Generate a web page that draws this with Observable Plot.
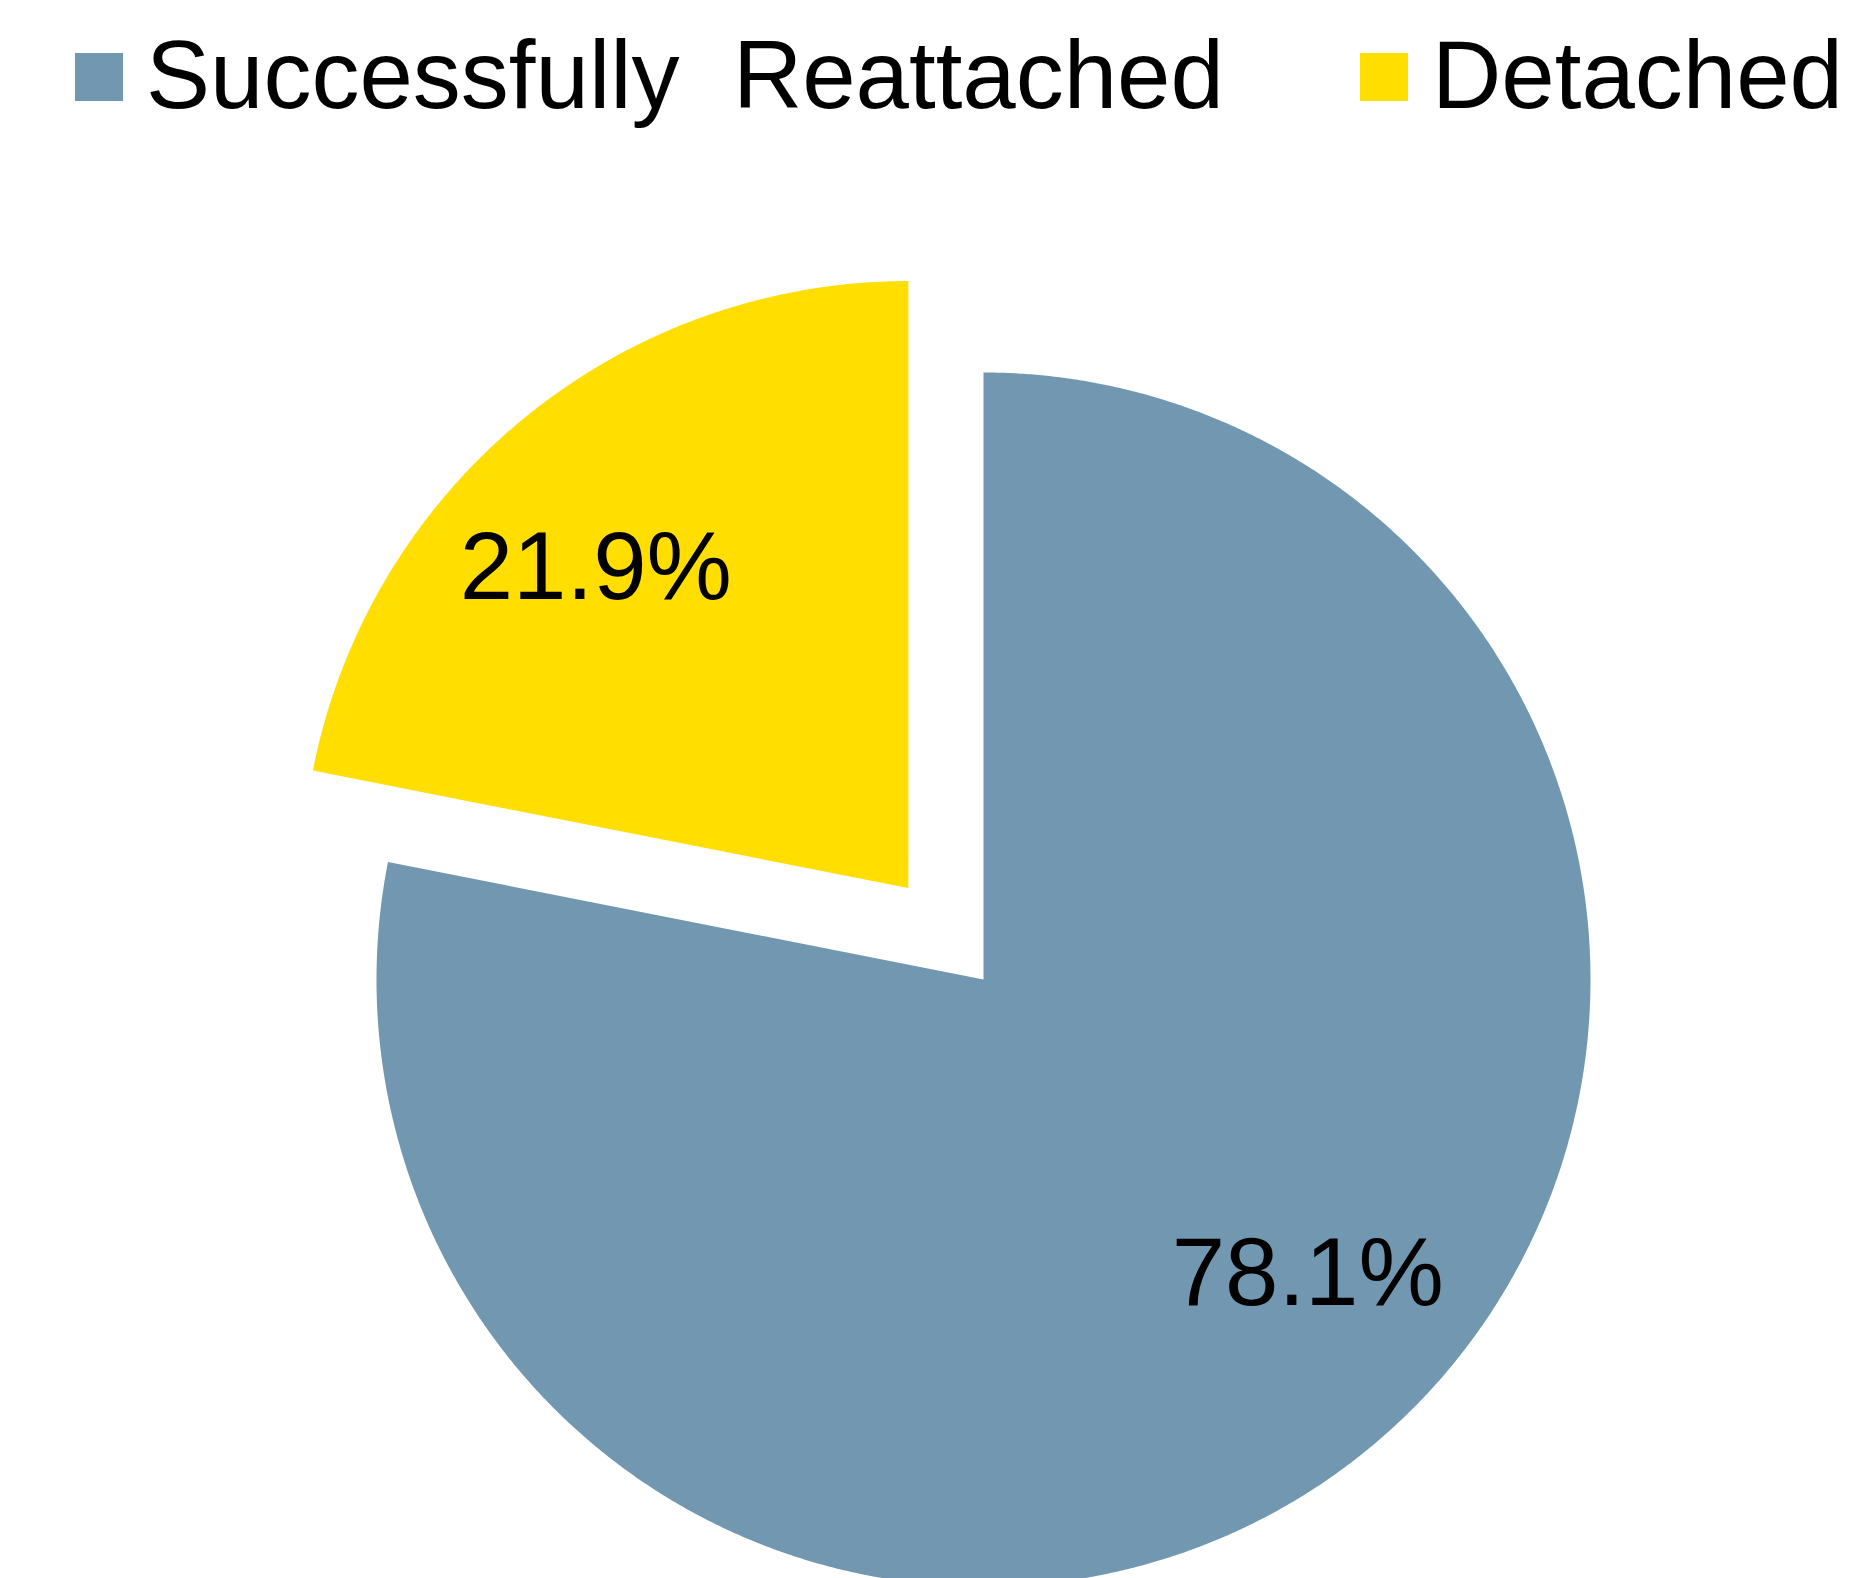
<!DOCTYPE html>
<html>
<head>
<meta charset="utf-8">
<script src="https://cdn.jsdelivr.net/npm/d3@7"></script>
<script src="https://cdn.jsdelivr.net/npm/@observablehq/plot@0.6"></script>
<style>
  html, body { margin: 0; padding: 0; background: #fff; overflow: hidden; }
  #legend { position: relative; width: 1851px; height: 140px; font-family: "Liberation Sans", Arial, sans-serif; }
  .sw { position: absolute; top: 53px; width: 48px; height: 48px; }
  .lt { position: absolute; top: 27px; font-size: 96px; line-height: 96px; white-space: pre; color: #000; }
  #chart svg { display: block; }
</style>
</head>
<body>
<div id="legend"></div>
<div id="chart"></div>
<script>
// ---- data ----
const categories = ["Successfully  Reattached", "Detached"];
const values = [78.1, 21.9];
const colors = ["#7297B0", "#FFDE00"];

// ---- layout (pixels) ----
const W = 1851, H = 1438;
const CX = 983, CY = 839, R = 607;
const explode = [0, 0.195];            // fraction of radius
const labelRadius = [0.722, 0.737];    // fraction of radius
const labelShiftDeg = [8.3, 4.9];      // counter-clockwise shift from bisector

// legend
const legend = document.getElementById("legend");
const legendPos = [{sw: 75, tx: 146}, {sw: 1360, tx: 1432}];
categories.forEach((c, i) => {
  const s = document.createElement("div");
  s.className = "sw"; s.style.left = legendPos[i].sw + "px"; s.style.background = colors[i];
  legend.appendChild(s);
  const t = document.createElement("div");
  t.className = "lt"; t.style.left = legendPos[i].tx + "px"; t.textContent = c;
  legend.appendChild(t);
});

// pie geometry through d3.pie
const rows = categories.map((c, i) => ({key: c, value: values[i], i}));
const arcs = d3.pie().sort(null).value(d => d.value)(rows);
const pts = [];
const labels = [];
arcs.forEach(a => {
  const i = a.data.i;
  const mid = (a.startAngle + a.endAngle) / 2;
  const ox = explode[i] * Math.sin(mid), oy = explode[i] * Math.cos(mid);
  pts.push({key: a.data.key, x: ox, y: oy});
  const n = Math.ceil((a.endAngle - a.startAngle) / (Math.PI / 720));
  for (let k = 0; k <= n; k++) {
    const t = a.startAngle + (a.endAngle - a.startAngle) * k / n;
    pts.push({key: a.data.key, x: ox + Math.sin(t), y: oy + Math.cos(t)});
  }
  const la = mid - labelShiftDeg[i] * Math.PI / 180;
  labels.push({key: a.data.key, x: ox + labelRadius[i] * Math.sin(la), y: oy + labelRadius[i] * Math.cos(la),
               text: a.data.value.toFixed(1) + "%"});
});

const chart = Plot.plot({
  width: W, height: H, margin: 0,
  x: {domain: [-CX / R, (W - CX) / R], axis: null},
  y: {domain: [-(H - CY) / R, CY / R], axis: null},
  color: {domain: categories, range: colors},
  style: {fontFamily: "'Liberation Sans', Arial, sans-serif", background: "#fff"},
  marks: [
    Plot.line(pts, {x: "x", y: "y", z: "key", fill: "key", stroke: "none", curve: "linear-closed"}),
    Plot.text(labels, {x: "x", y: "y", text: "text", fontSize: 96, fill: "#000", textAnchor: "middle", lineAnchor: "middle"})
  ]
});
document.getElementById("chart").appendChild(chart);
</script>
</body>
</html>
